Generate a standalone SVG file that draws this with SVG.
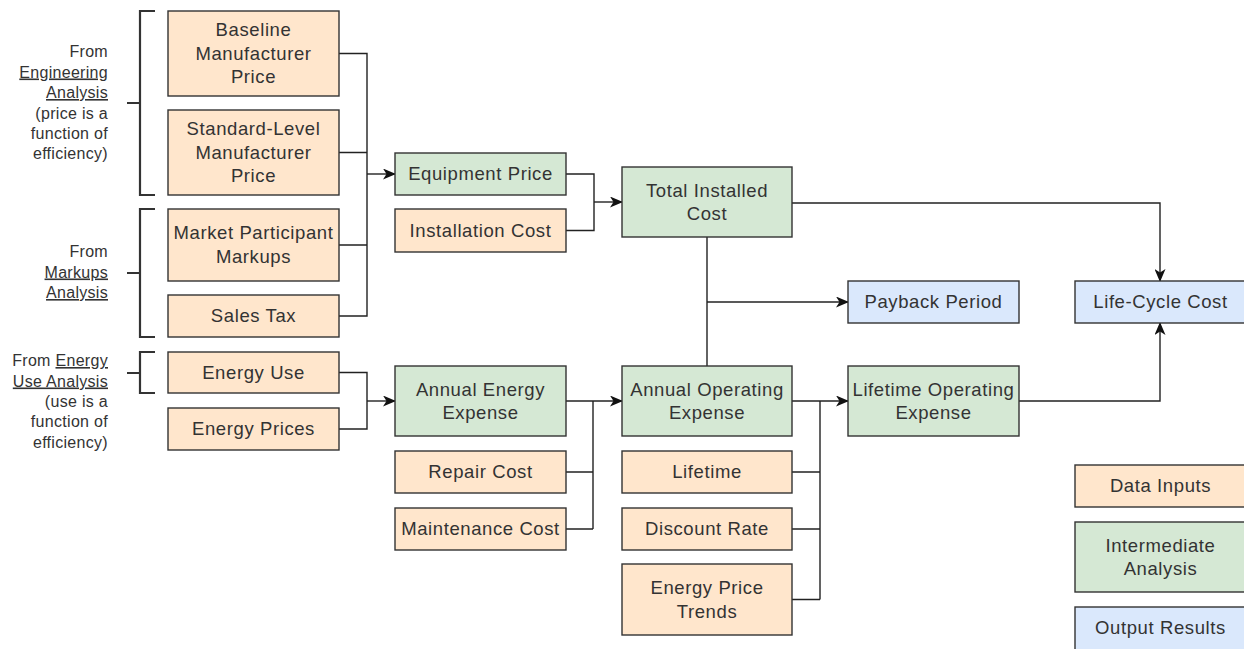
<svg xmlns="http://www.w3.org/2000/svg" width="1244" height="649" viewBox="0 0 1244 649">
  <style>
    .box { stroke: #333; stroke-width: 1.4; }
    .input { fill: #ffe6cc; }
    .mid { fill: #d5e8d4; }
    .out { fill: #dae8fc; }
    .lbl { font-family: "Liberation Sans", Arial, sans-serif; font-size: 18.5px; letter-spacing: 0.6px; fill: #333; text-anchor: middle; }
    .side { font-family: "Liberation Sans", Arial, sans-serif; font-size: 16px; letter-spacing: 0.3px; fill: #333; text-anchor: end; }
    .u { text-decoration: underline; }
    .wire { fill: none; stroke: #222; stroke-width: 1.4; }
    .arrow { fill: none; stroke: #222; stroke-width: 1.4; marker-end: url(#head); }
    .brace { fill: none; stroke: #333; stroke-width: 2.2; }
  </style>
  <defs>
    <marker id="head" viewBox="0 0 13 11" refX="12" refY="5.5" markerWidth="13" markerHeight="11" markerUnits="userSpaceOnUse" orient="auto">
      <path d="M0,0 L13,5.5 L0,11 L3.5,5.5 Z" fill="#111"/>
    </marker>
  </defs>
  <rect width="1244" height="649" fill="#fff"/>

  <!-- source notes with brackets -->
  <g id="note-engineering">
    <text class="side" x="108" y="57">From</text>
    <text class="side u" x="108" y="77.5">Engineering</text>
    <text class="side u" x="108" y="98">Analysis</text>
    <text class="side" x="108" y="118.5">(price is a</text>
    <text class="side" x="108" y="139">function of</text>
    <text class="side" x="108" y="159">efficiency)</text>
    <path class="brace" d="M155,11 H140 V195 H155 M127,103 H140"/>
  </g>
  <g id="note-markups">
    <text class="side" x="108" y="257">From</text>
    <text class="side u" x="108" y="277.5">Markups</text>
    <text class="side u" x="108" y="298">Analysis</text>
    <path class="brace" d="M155,209 H140 V337 H155 M127,273 H140"/>
  </g>
  <g id="note-energy">
    <text class="side" x="108" y="366">From <tspan class="u">Energy</tspan></text>
    <text class="side u" x="108" y="386.5">Use Analysis</text>
    <text class="side" x="108" y="407">(use is a</text>
    <text class="side" x="108" y="427">function of</text>
    <text class="side" x="108" y="447.5">efficiency)</text>
    <path class="brace" d="M155,352 H140 V393 H155 M127,373 H140"/>
  </g>

  <!-- connectors -->
  <g id="connectors">
    <path class="wire" d="M339,53.5 H367 V316 H339 M339,152.5 H367 M339,245 H367"/>
    <path class="arrow" d="M367,174 H395"/>
    <path class="wire" d="M566,174 H594 V230.5 H566"/>
    <path class="arrow" d="M594,202 H622"/>
    <path class="arrow" d="M792,203 H1160 V281"/>
    <path class="wire" d="M707,237 V366"/>
    <path class="arrow" d="M707,302 H848"/>
    <path class="wire" d="M339,372.5 H367 V429 H339"/>
    <path class="arrow" d="M367,401 H395"/>
    <path class="wire" d="M566,472 H593 M566,529 H593 M593,401 V529"/>
    <path class="arrow" d="M566,401 H622"/>
    <path class="wire" d="M792,472 H820 M792,529 H820 M792,599.5 H820 M820,401 V599.5"/>
    <path class="arrow" d="M792,401 H848"/>
    <path class="arrow" d="M1019,401 H1160 V323"/>
  </g>

  <!-- data inputs -->
  <g id="baseline-price">
    <rect class="box input" x="168" y="11" width="171" height="85"/>
    <text class="lbl" x="253.5" y="36">Baseline</text>
    <text class="lbl" x="253.5" y="59.5">Manufacturer</text>
    <text class="lbl" x="253.5" y="83">Price</text>
  </g>
  <g id="standard-price">
    <rect class="box input" x="168" y="110" width="171" height="85"/>
    <text class="lbl" x="253.5" y="135">Standard-Level</text>
    <text class="lbl" x="253.5" y="158.5">Manufacturer</text>
    <text class="lbl" x="253.5" y="182">Price</text>
  </g>
  <g id="markups">
    <rect class="box input" x="168" y="209" width="171" height="72"/>
    <text class="lbl" x="253.5" y="239">Market Participant</text>
    <text class="lbl" x="253.5" y="262.5">Markups</text>
  </g>
  <g id="sales-tax">
    <rect class="box input" x="168" y="295" width="171" height="42"/>
    <text class="lbl" x="253.5" y="322">Sales Tax</text>
  </g>
  <g id="energy-use">
    <rect class="box input" x="168" y="352" width="171" height="41"/>
    <text class="lbl" x="253.5" y="378.5">Energy Use</text>
  </g>
  <g id="energy-prices">
    <rect class="box input" x="168" y="408" width="171" height="42"/>
    <text class="lbl" x="253.5" y="435">Energy Prices</text>
  </g>
  <g id="installation-cost">
    <rect class="box input" x="395" y="209" width="171" height="43"/>
    <text class="lbl" x="480.5" y="236.5">Installation Cost</text>
  </g>
  <g id="repair-cost">
    <rect class="box input" x="395" y="451" width="171" height="42"/>
    <text class="lbl" x="480.5" y="478">Repair Cost</text>
  </g>
  <g id="maintenance-cost">
    <rect class="box input" x="395" y="508" width="171" height="42"/>
    <text class="lbl" x="480.5" y="535">Maintenance Cost</text>
  </g>
  <g id="lifetime">
    <rect class="box input" x="622" y="451" width="170" height="42"/>
    <text class="lbl" x="707" y="478">Lifetime</text>
  </g>
  <g id="discount-rate">
    <rect class="box input" x="622" y="508" width="170" height="42"/>
    <text class="lbl" x="707" y="535">Discount Rate</text>
  </g>
  <g id="price-trends">
    <rect class="box input" x="622" y="564" width="170" height="71"/>
    <text class="lbl" x="707" y="594">Energy Price</text>
    <text class="lbl" x="707" y="617.5">Trends</text>
  </g>

  <!-- intermediate analysis -->
  <g id="equipment-price">
    <rect class="box mid" x="395" y="153" width="171" height="42"/>
    <text class="lbl" x="480.5" y="180">Equipment Price</text>
  </g>
  <g id="total-installed">
    <rect class="box mid" x="622" y="167" width="170" height="70"/>
    <text class="lbl" x="707" y="196.5">Total Installed</text>
    <text class="lbl" x="707" y="220">Cost</text>
  </g>
  <g id="annual-energy">
    <rect class="box mid" x="395" y="366" width="171" height="70"/>
    <text class="lbl" x="480.5" y="395.5">Annual Energy</text>
    <text class="lbl" x="480.5" y="419">Expense</text>
  </g>
  <g id="annual-operating">
    <rect class="box mid" x="622" y="366" width="170" height="70"/>
    <text class="lbl" x="707" y="395.5">Annual Operating</text>
    <text class="lbl" x="707" y="419">Expense</text>
  </g>
  <g id="lifetime-operating">
    <rect class="box mid" x="848" y="366" width="171" height="70"/>
    <text class="lbl" x="933.5" y="395.5">Lifetime Operating</text>
    <text class="lbl" x="933.5" y="419">Expense</text>
  </g>

  <!-- outputs -->
  <g id="payback">
    <rect class="box out" x="848" y="281" width="171" height="42"/>
    <text class="lbl" x="933.5" y="308">Payback Period</text>
  </g>
  <g id="life-cycle-cost">
    <rect class="box out" x="1075" y="281" width="171" height="42"/>
    <text class="lbl" x="1160.5" y="308">Life-Cycle Cost</text>
  </g>

  <!-- legend -->
  <g id="legend-inputs">
    <rect class="box input" x="1075" y="465" width="171" height="42"/>
    <text class="lbl" x="1160.5" y="492">Data Inputs</text>
  </g>
  <g id="legend-intermediate">
    <rect class="box mid" x="1075" y="522" width="171" height="70"/>
    <text class="lbl" x="1160.5" y="551.5">Intermediate</text>
    <text class="lbl" x="1160.5" y="575">Analysis</text>
  </g>
  <g id="legend-outputs">
    <rect class="box out" x="1075" y="607" width="171" height="46"/>
    <text class="lbl" x="1160.5" y="634">Output Results</text>
  </g>
</svg>
